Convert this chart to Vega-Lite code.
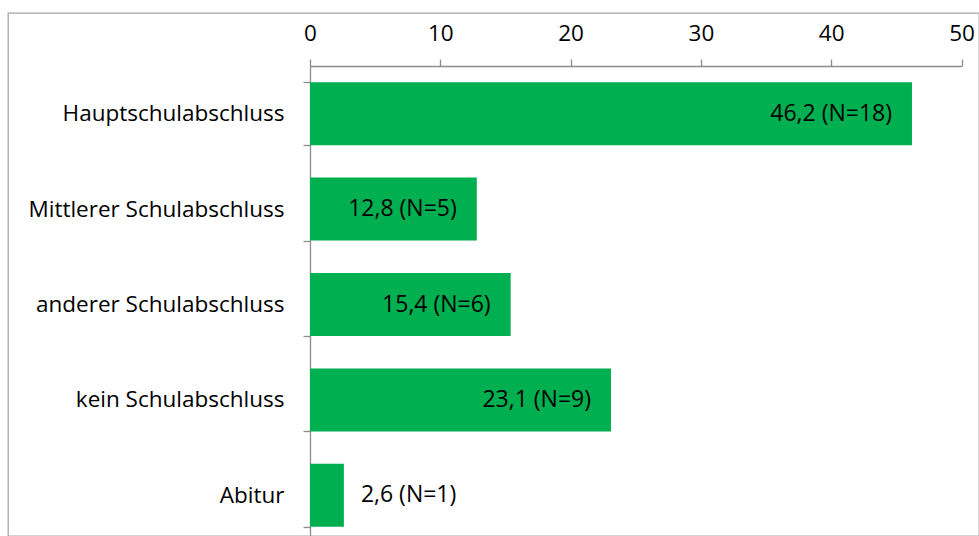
{
  "$schema": "https://vega.github.io/schema/vega-lite/v6.json",
  "autosize": {"type": "none"},
  "padding": {"left": 8, "top": 13, "right": 0, "bottom": 0},
  "width": 971,
  "height": 523,
  "background": "white",
  "config": {
    "view": {"stroke": "#a6a6a6", "strokeWidth": 1.3},
    "font": "Open Sans",
    "text": {"font": "Open Sans", "fontSize": 23, "color": "black"}
  },
  "data": {
    "values": [
      {"Abschluss": "Hauptschulabschluss", "Prozent": 46.2, "Label": "46,2 (N=18)"},
      {"Abschluss": "Mittlerer Schulabschluss", "Prozent": 12.8, "Label": "12,8 (N=5)"},
      {"Abschluss": "anderer Schulabschluss", "Prozent": 15.4, "Label": "15,4 (N=6)"},
      {"Abschluss": "kein Schulabschluss", "Prozent": 23.1, "Label": "23,1 (N=9)"},
      {"Abschluss": "Abitur", "Prozent": 2.6, "Label": "2,6 (N=1)"}
    ]
  },
  "encoding": {
    "y": {
      "field": "Abschluss",
      "type": "nominal",
      "sort": null,
      "scale": {"range": [53, 530], "paddingInner": 0.34, "paddingOuter": 0.17},
      "axis": {
        "orient": "left",
        "offset": -302,
        "title": null,
        "tickBand": "extent",
        "tickSize": 7,
        "tickColor": "#8c8c8c",
        "tickWidth": 1.3,
        "domainColor": "#8c8c8c",
        "domainWidth": 1.3,
        "labelFontSize": 22.5,
        "labelFont": "Open Sans",
        "labelColor": "black",
        "labelPadding": 19,
        "labelBaseline": "middle",
        "labelLimit": 400,
        "grid": false
      }
    },
    "x": {
      "field": "Prozent",
      "type": "quantitative",
      "scale": {"domain": [0, 50], "range": [302, 953.5], "nice": false, "zero": true},
      "axis": {
        "orient": "top",
        "offset": -53,
        "title": null,
        "values": [0, 10, 20, 30, 40, 50],
        "tickSize": 7,
        "tickColor": "#8c8c8c",
        "tickWidth": 1.3,
        "domainColor": "#8c8c8c",
        "domainWidth": 1.3,
        "labelFontSize": 22.5,
        "labelFont": "Open Sans",
        "labelColor": "black",
        "labelPadding": 19,
        "labelBaseline": "alphabetic",
        "labelFlush": false,
        "grid": false
      }
    }
  },
  "layer": [
    {"mark": {"type": "bar", "color": "#00b050"}},
    {
      "transform": [{"filter": "datum.Prozent > 5"}],
      "mark": {"type": "text", "align": "right", "baseline": "middle", "dx": -20},
      "encoding": {"text": {"field": "Label", "type": "nominal"}}
    },
    {
      "transform": [{"filter": "datum.Prozent <= 5"}],
      "mark": {"type": "text", "align": "left", "baseline": "middle", "dx": 17},
      "encoding": {"text": {"field": "Label", "type": "nominal"}}
    }
  ]
}
